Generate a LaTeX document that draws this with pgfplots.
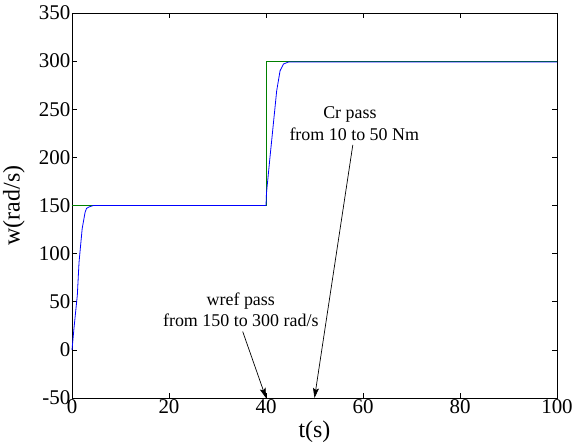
\documentclass[border=0pt]{standalone}
\usepackage{fontspec}
\setmainfont{Liberation Serif}
\usepackage{pgfplots}
\pgfplotsset{compat=1.18}
\usetikzlibrary{arrows.meta}
\definecolor{mgreen}{RGB}{0,128,0}
\definecolor{mblue}{RGB}{0,0,255}
\tikzset{
  note/.style={font=\rmfamily\fontsize{18}{20}\selectfont,inner sep=0pt},
  arr/.style ={-{Stealth[length=10bp,width=6bp,inset=2bp]},line width=0.7bp,black},
}
\begin{document}
\begin{tikzpicture}
\begin{axis}[
  scale only axis,
  width=485bp, height=385bp,
  xmin=0, xmax=100, ymin=-50, ymax=350,
  xtick={0,20,...,100},
  ytick={-50,0,...,350},
  /pgf/number format/assume math mode=true,
  xticklabel={\pgfmathprintnumber{\tick}},
  yticklabel={\pgfmathprintnumber{\tick}},
  tick align=inside, major tick length=5bp,
  tick style={black,line width=0.6bp},
  axis line style={black,line width=0.8bp},
  ticklabel style={font=\rmfamily\fontsize{21}{23}\selectfont,inner sep=1.5bp},
  xticklabel style={inner sep=1bp},
  xlabel={t(s)}, ylabel={w(rad/s)},
  label style={font=\rmfamily\fontsize{24}{26}\selectfont},
  xlabel style={at={(axis description cs:0.5,-0.088)},anchor=center},
  ylabel style={at={(axis description cs:-0.12,0.5)},anchor=center,rotate=0},
  clip=false,
]
\addplot[mgreen,line width=0.8bp] coordinates {(0,150) (40,150) (40,300) (100,300)};
\addplot[mblue,line width=0.8bp] coordinates {
  (0,0) (0.4,22) (1.1,57) (1.45,91) (2.1,126) (2.7,143) (3.0,147)
  (3.5,148.5) (4.4,150) (40,150)
  (40.1,163) (40.8,199) (41.5,234) (42.2,269) (42.9,290) (43.6,297)
  (44.6,299) (100,299)};
\node[note] at (axis cs:34.8,51) {wref pass};
\node[note] at (axis cs:34.8,31) {from 150 to 300 rad/s};
\node[note] at (axis cs:57.3,245) {Cr pass};
\node[note] at (axis cs:58.2,224) {from 10 to 50 Nm};
\draw[arr] (axis cs:35.2,19) -- (axis cs:40,-50);
\draw[arr] (axis cs:57.9,213) -- (axis cs:50,-50);
\end{axis}
\pgfresetboundingbox
\path[use as bounding box] (-72bp,-49bp) rectangle (505bp,398bp);
\end{tikzpicture}
\end{document}
